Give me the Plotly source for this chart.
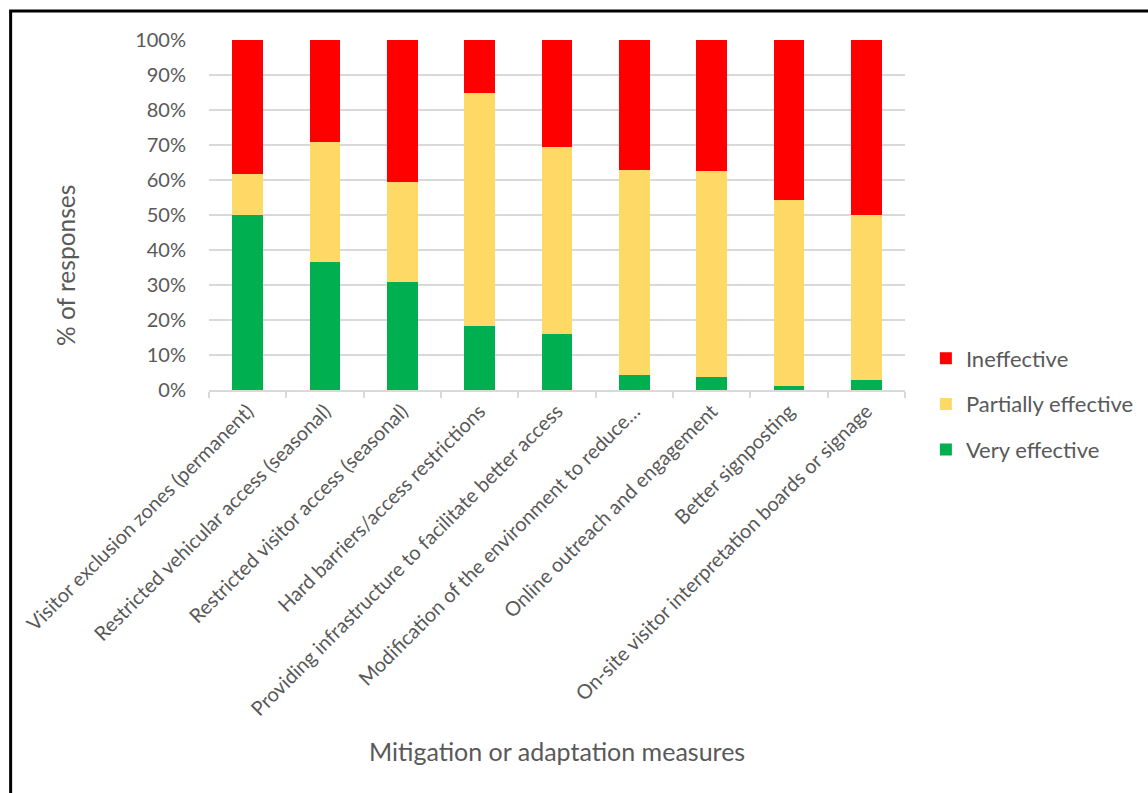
import plotly.graph_objects as go

categories = [
    "Visitor exclusion zones (permanent)",
    "Restricted vehicular access (seasonal)",
    "Restricted visitor access (seasonal)",
    "Hard barriers/access restrictions",
    "Providing infrastructure to facilitate better access",
    "Modification of the environment to reduce…",
    "Online outreach and engagement",
    "Better signposting",
    "On-site visitor interpretation boards or signage",
]
very_effective = [50.0, 36.6, 30.8, 18.4, 16.0, 4.3, 3.6, 1.1, 2.9]
partially_effective = [11.7, 34.4, 28.6, 66.5, 53.3, 58.5, 59.0, 53.2, 47.1]
ineffective = [100 - v - p for v, p in zip(very_effective, partially_effective)]

series_names = ["Very effective", "Partially effective", "Ineffective"]
series_colors = ["#00B050", "#FFD966", "#FF0000"]
series_values = [very_effective, partially_effective, ineffective]
legend_ranks = [3, 2, 1]

FONT = "Lato"
TXT = "#595959"

fig = go.Figure()
for name, color, vals, rank in zip(series_names, series_colors, series_values, legend_ranks):
    fig.add_trace(go.Bar(
        x=categories,
        y=[v / 100 for v in vals],
        name=name,
        legendgroup=name,
        legendrank=rank,
        marker=dict(color=color, line=dict(width=0)),
        hovertemplate="%{x}<br>" + name + ": %{y:.1%}<extra></extra>",
    ))

fig.update_layout(
    width=1148, height=793,
    barmode="stack",
    bargap=0.6,
    paper_bgcolor="white",
    plot_bgcolor="white",
    margin=dict(l=209, r=243, t=40, b=403, autoexpand=False),
    font=dict(family=FONT, color=TXT),
    showlegend=True,
    legend=dict(
        x=1.03, xanchor="left", y=0.15, yanchor="top",
        traceorder="grouped", tracegroupgap=14,
        font=dict(family=FONT, size=22, color=TXT),
        bgcolor="rgba(0,0,0,0)",
    ),
    xaxis=dict(
        type="category",
        tickangle=-45,
        tickfont=dict(family=FONT, size=20, color=TXT),
        showline=True, linecolor="#D9D9D9", linewidth=1.5,
        ticks="outside", tickson="boundaries", ticklen=6,
        tickcolor="#D9D9D9", tickwidth=1.5,
        showgrid=False,
    ),
    yaxis=dict(
        range=[0, 1], dtick=0.1, tickformat=".0%",
        tickfont=dict(family=FONT, size=20, color=TXT),
        showgrid=True, gridcolor="#D9D9D9", gridwidth=1.5,
        zeroline=False, showline=False, ticks="",
        ticklabelstandoff=22,
    ),
    annotations=[
        dict(text="Mitigation or adaptation measures", xref="paper", yref="paper",
             x=0.5, y=-1.031, xanchor="center", yanchor="middle", showarrow=False,
             font=dict(family=FONT, size=25, color=TXT)),
        dict(text="% of responses", xref="paper", yref="paper",
             x=-0.207, y=0.357, xanchor="center", yanchor="middle", showarrow=False,
             textangle=-90, font=dict(family=FONT, size=24.5, color=TXT)),
    ],
    shapes=[
        dict(type="rect", xref="paper", yref="paper",
             x0=-0.285, x1=1.5, y0=-1.3, y1=1.083,
             line=dict(color="black", width=3), fillcolor="rgba(0,0,0,0)",
             layer="below"),
    ],
)

fig.write_html("out.html")
